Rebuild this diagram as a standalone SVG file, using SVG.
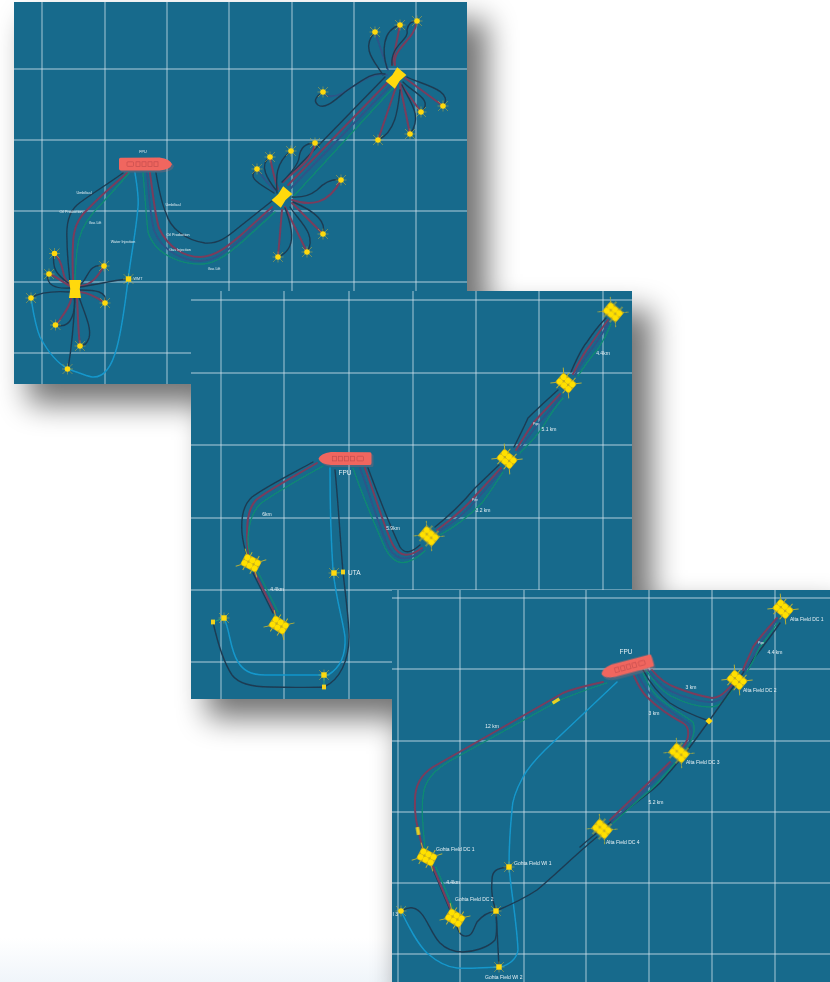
<svg xmlns="http://www.w3.org/2000/svg" xmlns:xlink="http://www.w3.org/1999/xlink" width="830" height="982" viewBox="0 0 830 982">
<style>
.panel{fill:#176a8c}
.grid line{stroke:#d3e6ee;stroke-width:1.4;opacity:.55}
.lines path{fill:none;stroke-linecap:round;stroke-linejoin:round}
.u{stroke:#1d3b52;stroke-width:1.4}
.p{stroke:#7a3c5c;stroke-width:2}
.n{stroke:#2f5488;stroke-width:1.8}
.g{stroke:#118a72;stroke-width:1.3}
.w{stroke:#1597cb;stroke-width:1.5}
.j{stroke:#26a07f;stroke-width:1}
.t{font-family:"Liberation Sans",Arial,sans-serif;fill:#e6f0f4}
.s{font-size:3.7px}
.m{font-size:5.6px}
.x{font-size:3px}
.soft{filter:url(#soft)}
</style>
<defs>
<filter id="shadow" x="-30%" y="-30%" width="160%" height="160%"><feGaussianBlur stdDeviation="15"/></filter>
<filter id="soft" x="-5%" y="-5%" width="110%" height="110%"><feGaussianBlur stdDeviation="0.5"/></filter>
<linearGradient id="floor" x1="0" y1="0" x2="0" y2="1"><stop offset="0" stop-color="#ffffff"/><stop offset="1" stop-color="#f0f5fa"/></linearGradient>
<g id="spikes"><path d="M-5,-5L5,5M5,-5L-5,5M0,-5.5V5.5M-5.500,0H5.500" stroke="#c3b13a" stroke-width=".5"/></g>
<g id="well"><use xlink:href="#spikes"/><circle r="2.8" fill="#ffd910"/></g>
<g id="sq"><use xlink:href="#spikes"/><rect x="-2.700" y="-2.700" width="5.400" height="5.400" fill="#ffd910"/></g>
<g id="small"><rect x="-2" y="-2.400" width="4" height="4.800" fill="#f5d21a"/></g>
<g id="dia"><path d="M0,-3.600L3.600,0L0,3.600L-3.600,0Z" fill="#ffd910"/></g>
<g id="spool"><path d="M-6,-9H6L5.500,-5.500Q4,0 5.500,5.500L6,9H-6L-5.500,5.500Q-4,0 -5.500,-5.500Z" fill="#ffd910"/></g>
<g id="mani">
<path d="M-10,-12L-5,-7M10,-12L5,-7M-10,12L-5,7M10,12L5,7M-10,-4H-6M10,-4H6M-10,4H-6M10,4H6" stroke="#b5b03a" stroke-width="1"/>
<rect x="-6.500" y="-9" width="13" height="18" rx="1.500" fill="#c4ad1e"/>
<circle cx="-3" cy="-5.700" r="2.900" fill="#ffe000"/><circle cx="3" cy="-5.700" r="2.900" fill="#ffe000"/>
<circle cx="-3" cy="0" r="2.900" fill="#ffe000"/><circle cx="3" cy="0" r="2.900" fill="#ffe000"/>
<circle cx="-3" cy="5.700" r="2.900" fill="#ffe000"/><circle cx="3" cy="5.700" r="2.900" fill="#ffe000"/>
</g>
<g id="ship">
<path d="M-25,-6.200Q-26.500,-6.200 -26.500,-4.500V4.500Q-26.500,6.400 -25,6.400L14,6.500Q25,5.500 26.500,0.300Q25,-5 14,-6.600Z" fill="#f0665e"/>
<g fill="none" stroke="#c44d4f" stroke-width=".7"><rect x="-18.500" y="-2.200" width="6.500" height="4.600" rx=".8"/><rect x="-9.500" y="-2.200" width="4" height="4.600"/><rect x="-3.500" y="-2.200" width="4" height="4.600"/><rect x="2.500" y="-2.200" width="4" height="4.600"/><rect x="8.500" y="-2.200" width="4" height="4.600"/></g>
</g>
</defs>

<rect id="background" width="830" height="982" fill="#ffffff"/>
<rect y="938" width="830" height="44" fill="url(#floor)"/>
<g id="shadows" fill="#000000" opacity=".55" filter="url(#shadow)">
<rect x="28" y="20" width="459" height="384"/>
<rect x="207" y="310" width="445" height="408"/>
<rect x="402" y="606" width="440" height="400"/>
</g>

<g id="panel-1">
<rect class="panel" x="14" y="2" width="453" height="382"/>
<g class="grid soft">
<line x1="42" y1="2" x2="42" y2="384"/><line x1="105" y1="2" x2="105" y2="384"/><line x1="167" y1="2" x2="167" y2="384"/><line x1="229" y1="2" x2="229" y2="384"/><line x1="292" y1="2" x2="292" y2="384"/><line x1="354" y1="2" x2="354" y2="384"/><line x1="416" y1="2" x2="416" y2="384"/>
<line x1="14" y1="69" x2="467" y2="69"/><line x1="14" y1="140" x2="467" y2="140"/><line x1="14" y1="211" x2="467" y2="211"/><line x1="14" y1="282" x2="467" y2="282"/><line x1="14" y1="353" x2="467" y2="353"/>
</g>
<g id="connectors-1" class="lines soft">
<path class="u" d="M123,173C105,186 88,196 77,205C68,213 66,225 67,240C67,255 69,270 70,283"/>
<path class="p" d="M127,173C112,186 98,198 87,210C76,220 73,232 73,245C72,260 73,272 73,283"/>
<path class="g" d="M129,173C118,186 105,200 93,213C82,226 78,240 77,250C76,262 75,272 75,283"/>
<path class="w" d="M135,173C137,185 139,197 138,207C136,232 131,255 128,280C125,305 122,328 117,347C111,370 102,378 92,377C85,376 75,371 68,369C55,362 47,350 40,337C35,325 33,310 31,298"/>
<path class="u" d="M156,173C159,190 162,205 166,213C170,228 185,240 205,243C218,244 226,238 238,228L272,201"/>
<path class="p" d="M150,173C153,195 155,215 159,228C168,248 185,257 200,257C215,257 228,246 240,236L272,207"/>
<path class="n" d="M147,173C149,195 150,215 154,230C162,252 185,261 200,261C215,261 228,250 240,240L273,210"/>
<path class="g" d="M143,173C145,195 146,215 148,232C155,255 182,265 203,264C218,263 230,252 242,242L275,212"/>
<path class="p" d="M70,284C60,278 66,265 55,254"/><path class="u" d="M68,283C56,274 52,268 54,254"/>
<path class="p" d="M70,286C62,282 56,276 49,274"/><path class="u" d="M70,288C55,289 46,285 48,274"/>
<path class="u" d="M70,292C55,291 40,292 31,298"/>
<path class="p" d="M72,296C70,308 62,316 56,325"/><path class="u" d="M74,296C76,310 72,330 56,325"/>
<path class="p" d="M77,297C78,315 78,330 80,346"/><path class="u" d="M79,297C84,312 92,328 89,338C87,344 84,346 80,346"/>
<path class="u" d="M75,297C74,320 72,345 68,369"/>
<path class="p" d="M80,292C90,293 98,298 105,303"/><path class="u" d="M80,290C95,290 108,291 105,303"/>
<path class="p" d="M80,286C92,285 98,276 104,266"/><path class="u" d="M79,285C88,282 87,262 104,266"/>
<path class="u" d="M80,287C95,285 115,280 128,279"/>
<path class="u" d="M283,182L385,77"/><path class="p" d="M288,185L388,82"/><path class="n" d="M291,188L391,85"/><path class="g" d="M293,197L393,88"/>
<path class="n" d="M275,191C268,184 262,176 257,169"/><path class="u" d="M274,193C262,185 245,178 257,169"/>
<path class="p" d="M278,189C275,180 272,168 270,157"/><path class="u" d="M276,190C268,180 258,165 270,157"/>
<path class="u" d="M277,193C276,178 275,163 291,151"/>
<path class="p" d="M283,182C295,170 312,162 315,143"/><path class="u" d="M282,182C292,172 298,165 299,158C300,148 305,143 315,143"/>
<path class="u" d="M292,197C305,198 312,194 317,190C325,182 332,178 341,180"/><path class="p" d="M292,200C310,206 328,205 341,180"/>
<path class="p" d="M292,203L323,234"/><path class="u" d="M293,202C305,207 328,218 323,234"/>
<path class="p" d="M285,207L307,252"/><path class="u" d="M290,207C298,220 318,235 307,252"/>
<path class="p" d="M282,210L278,257"/><path class="u" d="M285,208C290,222 300,248 278,257"/>
<path class="n" d="M388,70L375,32"/><path class="u" d="M383,75C375,62 360,48 375,32"/>
<path class="p" d="M392,65L400,25"/><path class="u" d="M387,68C382,52 382,30 400,25"/>
<path class="p" d="M395,65C392,48 415,40 417,21"/><path class="u" d="M392,65C390,45 410,40 407,30C408,24 412,21 417,21"/>
<path class="n" d="M387,75C378,72 368,76 343,93C335,97 325,98 323,92"/><path class="u" d="M385,74C372,72 365,78 345,92C335,100 325,110 318,105C312,100 318,95 323,92"/>
<path class="p" d="M405,78L443,106"/><path class="u" d="M407,77C420,84 455,90 443,106"/>
<path class="p" d="M400,83L421,112"/><path class="u" d="M403,82C412,92 435,100 421,112"/>
<path class="p" d="M400,85L410,134"/><path class="u" d="M402,85C408,100 424,115 410,134"/>
<path class="p" d="M396,87L378,140"/><path class="u" d="M400,90C398,108 396,132 378,140"/>
</g>
<g id="p1-fpso" transform="translate(145.500,164)"><use xlink:href="#ship" x="2" y="2" opacity=".22" class="soft"/><use xlink:href="#ship" class="soft"/><text class="t s" x="-2.500" y="-11" text-anchor="middle">FPU</text></g>
<g id="p1-manifold-1" class="soft"><use xlink:href="#spool" transform="translate(75,289)"/></g>
<g id="p1-manifold-2" class="soft"><use xlink:href="#spool" transform="translate(282,197) rotate(40)"/></g>
<g id="p1-manifold-3" class="soft"><use xlink:href="#spool" transform="translate(396,78) rotate(40)"/></g>
<g id="p1-wells" class="soft">
<use xlink:href="#well" x="54.500" y="253.500"/><use xlink:href="#well" x="49" y="274"/><use xlink:href="#well" x="31" y="298"/><use xlink:href="#well" x="55.500" y="325"/><use xlink:href="#well" x="80" y="346"/><use xlink:href="#well" x="67.500" y="369"/><use xlink:href="#well" x="104" y="266"/><use xlink:href="#well" x="105" y="303"/><use xlink:href="#sq" x="128.500" y="279"/>
<use xlink:href="#well" x="257" y="169"/><use xlink:href="#well" x="270" y="157"/><use xlink:href="#well" x="291" y="151"/><use xlink:href="#well" x="315" y="143"/><use xlink:href="#well" x="341" y="180"/><use xlink:href="#well" x="323" y="234"/><use xlink:href="#well" x="307" y="252"/><use xlink:href="#well" x="278" y="257"/>
<use xlink:href="#well" x="375" y="32"/><use xlink:href="#well" x="400" y="25"/><use xlink:href="#well" x="417" y="21"/><use xlink:href="#well" x="323" y="92"/><use xlink:href="#well" x="443" y="106"/><use xlink:href="#well" x="421" y="112"/><use xlink:href="#well" x="410" y="134"/><use xlink:href="#well" x="378" y="140"/>
</g>
<g id="p1-labels" class="t s" text-anchor="middle">
<text x="84" y="194">Umbilical</text><text x="71" y="213">Oil Production</text><text x="95" y="224">Gas Lift</text><text x="123" y="243">Water Injection</text><text x="173" y="206">Umbilical</text><text x="178" y="236">Oil Production</text><text x="180" y="251">Gas Injection</text><text x="214" y="270">Gas Lift</text><text x="138" y="280">WMT</text>
</g>
</g>

<g id="panel-2">
<rect class="panel" x="191" y="291" width="441" height="408"/>
<g class="grid soft">
<line x1="221" y1="291" x2="221" y2="699"/><line x1="284" y1="291" x2="284" y2="699"/><line x1="349" y1="291" x2="349" y2="699"/><line x1="413" y1="291" x2="413" y2="699"/><line x1="476" y1="291" x2="476" y2="699"/><line x1="539" y1="291" x2="539" y2="699"/><line x1="603" y1="291" x2="603" y2="699"/>
<line x1="191" y1="300" x2="632" y2="300"/><line x1="191" y1="373" x2="632" y2="373"/><line x1="191" y1="445" x2="632" y2="445"/><line x1="191" y1="518" x2="632" y2="518"/><line x1="191" y1="590" x2="632" y2="590"/><line x1="191" y1="662" x2="632" y2="662"/>
</g>
<g id="connectors-2" class="lines soft">
<path class="u" d="M313,462C295,472 265,487 252,497C243,505 241,520 242,533C243,543 245,550 247,555"/>
<path class="p" d="M317,463C300,473 268,490 256,500C248,509 247,522 247,535C247,545 248,550 249,555"/>
<path class="g" d="M323,466C305,476 272,495 260,504C251,514 249,525 248,538C248,545 249,550 250,555"/>
<path class="u" d="M253,573L273,613"/><path class="p" d="M255,573L275,613"/><path class="g" d="M258,572L278,612"/>
<path class="u" d="M368,468C378,495 392,530 400,547C405,555 412,552 420,545"/>
<path class="p" d="M365,468C375,495 385,530 393,545C400,558 410,557 422,548"/>
<path class="n" d="M360,468C370,495 380,530 389,548C397,562 410,561 423,550"/>
<path class="g" d="M353,468C362,495 375,525 385,548C395,568 408,566 425,551"/>
<path class="u" d="M435,527C450,515 465,500 475,488L499,465"/><path class="p" d="M437,530C452,519 468,505 477,494L501,468"/><path class="n" d="M438,532C455,522 470,508 479,497L502,470"/><path class="g" d="M440,535C455,527 470,515 482,503C488,495 495,485 503,472"/>
<path class="u" d="M514,447C520,435 525,425 528,418C538,408 548,399 558,390"/><path class="p" d="M516,450C523,438 530,428 534,422C543,412 552,403 560,394"/><path class="n" d="M518,451C525,441 533,431 537,425C546,415 555,405 561,396"/><path class="g" d="M520,453C530,443 540,432 544,425C550,415 557,405 563,398"/>
<path class="u" d="M571,372C577,358 582,348 587,342C593,333 598,326 606,318"/><path class="p" d="M573,374C580,360 586,350 591,344C597,335 602,328 608,320"/><path class="n" d="M575,375C582,362 589,352 594,346C600,337 605,330 609,322"/><path class="g" d="M578,376C586,364 593,354 598,349C604,340 608,332 611,324"/>
<path class="w" d="M330,468C330,490 331,540 333,570C336,600 343,620 345,637C346,655 340,668 328,675L265,675C250,675 243,670 238,662C230,650 230,630 224,618"/>
<path class="u" d="M335,470C338,500 341,550 343,572C346,600 349,620 349,637C349,660 340,680 324,687C305,688 285,687 270,687C250,687 238,683 232,675C222,660 217,640 213,622"/>
<path class="j" d="M224,618L213,622"/><path class="j" d="M324,675V687"/><path class="j" d="M334,573L343,572"/>
</g>
<g id="p2-fpu" transform="translate(345,458.500) scale(-1,1)"><use xlink:href="#ship" x="-2" y="2" opacity=".22" class="soft"/><use xlink:href="#ship" class="soft"/></g>
<g id="p2-manifolds" class="soft">
<use xlink:href="#mani" transform="translate(251,563) rotate(-62)"/><use xlink:href="#mani" transform="translate(279,625) rotate(-58)"/><use xlink:href="#mani" transform="translate(429,536) rotate(-50)"/><use xlink:href="#mani" transform="translate(507,459) rotate(-50)"/><use xlink:href="#mani" transform="translate(566,383) rotate(-50)"/><use xlink:href="#mani" transform="translate(613,312) rotate(-50)"/>
</g>
<g id="p2-wells" class="soft">
<use xlink:href="#sq" x="224" y="618"/><use xlink:href="#small" x="213" y="622"/><use xlink:href="#sq" x="324" y="675"/><use xlink:href="#small" x="324" y="687"/><use xlink:href="#sq" x="334" y="573"/><use xlink:href="#small" x="343" y="572"/>
</g>
<g id="p2-labels" class="t m">
<text x="345" y="475" text-anchor="middle" style="font-size:6.500px">FPU</text>
<text x="348" y="574.500" style="font-size:6.500px">UTA</text>
<text x="267" y="516" text-anchor="middle" style="font-size:5px">6km</text>
<text x="277" y="591" text-anchor="middle" style="font-size:5px">4.4km</text>
<text x="393" y="530" text-anchor="middle" style="font-size:5px">5.9km</text>
<text x="483" y="512" text-anchor="middle" style="font-size:5px">3.2 km</text>
<text x="549" y="431" text-anchor="middle" style="font-size:5px">5.1 km</text>
<text x="603" y="355" text-anchor="middle" style="font-size:5px">4.4km</text>
<text class="x" x="475" y="501" text-anchor="middle" style="font-size:3px">Pipe</text>
<text class="x" x="536" y="424.500" text-anchor="middle" style="font-size:3px">Pipe</text>
</g>
</g>

<g id="panel-3">
<rect class="panel" x="392" y="590" width="438" height="392"/>
<g class="grid soft">
<line x1="398" y1="590" x2="398" y2="982"/><line x1="460" y1="590" x2="460" y2="982"/><line x1="524" y1="590" x2="524" y2="982"/><line x1="586" y1="590" x2="586" y2="982"/><line x1="649" y1="590" x2="649" y2="982"/><line x1="712" y1="590" x2="712" y2="982"/><line x1="775" y1="590" x2="775" y2="982"/>
<line x1="392" y1="598" x2="830" y2="598"/><line x1="392" y1="669" x2="830" y2="669"/><line x1="392" y1="741" x2="830" y2="741"/><line x1="392" y1="812" x2="830" y2="812"/><line x1="392" y1="883" x2="830" y2="883"/><line x1="392" y1="954" x2="830" y2="954"/>
</g>
<g id="connectors-3" class="lines soft">
<path class="p" d="M603,682C590,685 575,688 563,693L433,767C422,774 415,785 415,800C414,815 417,825 423,850"/>
<path class="g" d="M607,683C590,688 575,694 560,700L457,757C440,766 428,775 424,790C421,805 422,815 425,850"/>
<path class="u" d="M432,867L450,910"/><path class="p" d="M433,867L451,910"/><path class="g" d="M436,867L454,910"/>
<path class="w" d="M617,682L545,750C535,760 528,768 523,777C516,790 512,800 512,810C510,830 509,850 509,867C511,890 517,925 518,950C517,958 510,965 500,967C480,968 470,969 457,968C445,967 435,960 427,953C416,942 408,925 401,911"/>
<path class="u" d="M597,837C575,855 555,875 537,890C525,898 510,905 496,911C487,912 482,916 477,922C473,930 472,936 467,936C460,937 457,930 455,918"/>
<path class="u" d="M496,911C492,900 491,890 492,880C492,872 495,868 509,867"/>
<path class="u" d="M496,911L499,967"/>
<path class="u" d="M496,911C497,925 497,935 495,940C488,948 472,952 463,952C452,952 445,948 440,943C430,933 425,910 413,908C408,907 405,909 401,911"/>
<path class="p" d="M652,670C660,680 668,685 677,688C690,693 700,696 712,698C720,698 724,693 727,690L735,682"/>
<path class="n" d="M648,670C656,682 665,690 680,695C692,699 700,702 710,702C720,702 726,696 733,686"/>
<path class="g" d="M646,670C654,682 662,692 673,697C685,703 700,707 710,707C720,707 725,700 732,690"/>
<path class="u" d="M643,670C650,683 660,695 670,703C682,711 695,716 709,721"/>
<path class="p" d="M634,676C638,685 642,692 647,697C657,707 670,716 683,723C690,727 690,738 683,747"/>
<path class="n" d="M638,675C643,685 648,693 655,699C665,708 678,716 690,725C693,732 692,740 685,749"/>
<path class="g" d="M643,673C647,683 652,691 658,697C668,706 682,714 693,722C696,730 693,740 685,750"/>
<path class="u" d="M780,623C770,638 752,660 743,673L709,721L690,747C680,760 670,772 660,783C650,793 635,803 623,813C600,830 590,838 580,847"/>
<path class="p" d="M670,762L610,820"/><path class="n" d="M672,763C650,785 630,805 612,822"/><path class="g" d="M675,763C665,775 657,785 647,793C635,803 625,812 613,823"/>
<path class="p" d="M777,618C768,628 760,637 753,647C750,655 746,662 743,670"/><path class="n" d="M777,620C770,630 762,640 757,648C753,656 749,664 745,671"/><path class="g" d="M777,623C772,632 765,640 760,647C756,655 752,664 747,672"/>
</g>
<g id="p3-couplers" class="soft" fill="#e8d023"><rect x="-4" y="-1.700" width="8" height="3.400" transform="translate(556,701) rotate(-32)"/><rect x="-4" y="-1.700" width="8" height="3.400" transform="translate(418,831) rotate(80)"/></g>
<g id="p3-fpu" transform="translate(627,667) rotate(-15) scale(-1,1)"><use xlink:href="#ship" x="-1" y="3" opacity=".22" class="soft"/><use xlink:href="#ship" class="soft"/></g>
<g id="p3-manifolds" class="soft">
<use xlink:href="#mani" transform="translate(783,609) rotate(-50)"/><use xlink:href="#mani" transform="translate(737,680) rotate(-50)"/><use xlink:href="#mani" transform="translate(679,753) rotate(-50)"/><use xlink:href="#mani" transform="translate(602,829) rotate(-50)"/><use xlink:href="#mani" transform="translate(427,857) rotate(-62)"/><use xlink:href="#mani" transform="translate(455,918) rotate(-58)"/>
</g>
<g id="p3-wells" class="soft">
<use xlink:href="#dia" x="709" y="721"/><use xlink:href="#sq" x="509" y="867"/><use xlink:href="#sq" x="496" y="911"/><use xlink:href="#sq" x="499" y="967"/><use xlink:href="#well" x="401" y="911"/>
</g>
<g id="p3-labels" class="t" style="font-size:5px">
<text x="626" y="654" text-anchor="middle" style="font-size:6.500px">FPU</text>
<text x="691" y="689" text-anchor="middle">3 km</text><text x="654" y="715" text-anchor="middle">3 km</text><text x="775" y="654" text-anchor="middle">4.4 km</text><text x="656" y="804" text-anchor="middle">5.2 km</text><text x="492" y="728" text-anchor="middle">12 km</text><text x="453" y="884" text-anchor="middle">4.4km</text>
<text x="761" y="644" text-anchor="middle" style="font-size:3px">Pipe</text>
<text x="790" y="621">Alta Field DC 1</text><text x="743" y="692">Alta Field DC 2</text><text x="686" y="764">Alta Field DC 3</text><text x="606" y="844">Alta Field DC 4</text>
<text x="436" y="851">Gohta Field DC 1</text><text x="455" y="901">Gohta Field DC 2</text><text x="514" y="865">Gohta Field WI 1</text><text x="485" y="979">Gohta Field WI 2</text>
<text x="392.500" y="916">I 3</text>
</g>
</g>
</svg>
